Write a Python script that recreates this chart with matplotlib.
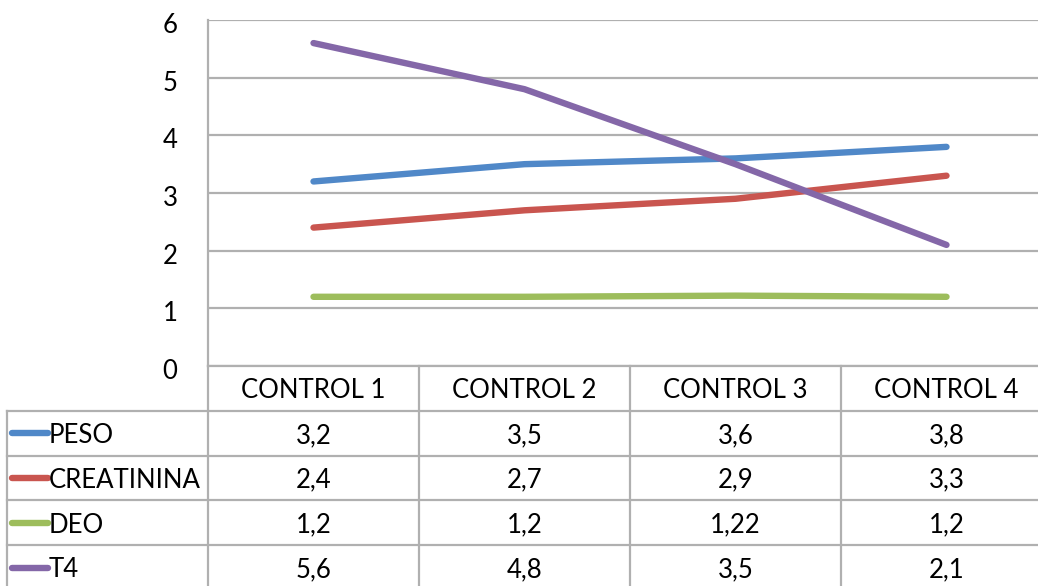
import matplotlib
matplotlib.use("Agg")
import matplotlib.pyplot as plt
from matplotlib.lines import Line2D
from matplotlib.transforms import ScaledTranslation

plt.rcParams['font.family'] = ['Lato', 'DejaVu Sans']

categories = ["CONTROL 1", "CONTROL 2", "CONTROL 3", "CONTROL 4"]
series_names = ["PESO", "CREATININA", "DEO", "T4"]
peso = [3.2, 3.5, 3.6, 3.8]
creatinina = [2.4, 2.7, 2.9, 3.3]
deo = [1.2, 1.2, 1.22, 1.2]
t4 = [5.6, 4.8, 3.5, 2.1]
y_ticks = [0, 1, 2, 3, 4, 5, 6]

series_values = [peso, creatinina, deo, t4]
colors = ["#5088c8", "#c9554f", "#9dbd5c", "#8467a8"]

W, H = 1038, 586
fig = plt.figure(figsize=(W / 100, H / 100), dpi=100)
fig.patch.set_facecolor("white")

grid_color = "#b0b0b0"
font_size = 18.5

# column geometry in pixels
col_left = 208
col_w = 211
n = len(categories)
plot_top = 20
plot_bottom = 366
row_h = 44.8

ax = fig.add_axes([col_left / W, (H - plot_bottom) / H, n * col_w / W,
                   (plot_bottom - plot_top) / H])
ax.set_xlim(-0.5, n - 0.5)
ax.set_ylim(0, 6)
ax.set_yticks(y_ticks)
ax.set_yticklabels([str(t) for t in y_ticks], fontsize=font_size)
ax.tick_params(axis="y", length=0, pad=22)
shift = ScaledTranslation(0, -3 / 100, fig.dpi_scale_trans)
for lbl in ax.get_yticklabels():
    lbl.set_verticalalignment("center_baseline")
    lbl.set_transform(lbl.get_transform() + shift)
ax.set_xticks([])
for s in ["top", "right", "bottom"]:
    ax.spines[s].set_visible(False)
ax.spines["left"].set_color(grid_color)
ax.spines["left"].set_linewidth(1.6)
ax.grid(axis="y", color=grid_color, linewidth=1.6)
ax.set_axisbelow(True)

x = list(range(n))
for vals, c in zip(series_values, colors):
    ax.plot(x, vals, color=c, linewidth=4.6, solid_capstyle="round",
            solid_joinstyle="round", zorder=3)

# data table below the plot, sharing the category scale
tab = fig.add_axes([col_left / W, (H - plot_bottom - 5 * row_h) / H,
                    n * col_w / W, 5 * row_h / H])
tab.set_xlim(-0.5, n - 0.5)
tab.set_ylim(5, 0)
tab.axis("off")

label_left = -0.5 - (col_left - 7) / col_w
lkw = dict(color=grid_color, linewidth=1.6, clip_on=False)

# horizontal rules
tab.add_line(Line2D([-0.5, n - 0.5], [0, 0], **lkw))
for r in range(1, 6):
    tab.add_line(Line2D([label_left, n - 0.5], [r, r], **lkw))
# vertical rules
tab.add_line(Line2D([label_left, label_left], [1, 5], **lkw))
for i in range(n):
    tab.add_line(Line2D([i - 0.5, i - 0.5], [0, 5], **lkw))

tkw = dict(fontsize=font_size, clip_on=False, color="black")
for i, cat in enumerate(categories):
    tab.text(i, 0.55, cat, ha="center", va="center", **tkw)

key_x0 = label_left + 5 / col_w
key_x1 = label_left + 41 / col_w
for r, (name, vals, c) in enumerate(zip(series_names, series_values, colors), start=1):
    tab.add_line(Line2D([key_x0, key_x1], [r + 0.5, r + 0.5], color=c,
                        linewidth=4.6, solid_capstyle="round", clip_on=False))
    tab.text(key_x1 + 1 / col_w, r + 0.55, name, ha="left", va="center", **tkw)
    for i, v in enumerate(vals):
        tab.text(i, r + 0.55, f"{v:g}".replace(".", ","), ha="center",
                 va="center", **tkw)

fig.savefig("out.png", dpi=100, facecolor="white")
